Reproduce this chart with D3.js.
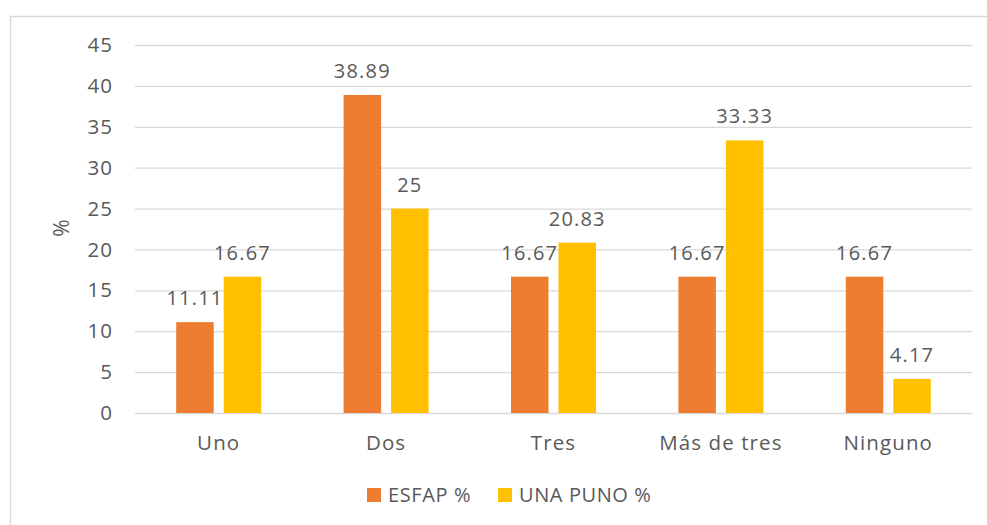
<!DOCTYPE html>
<html>
<head>
<meta charset="utf-8">
<script src="https://cdn.jsdelivr.net/npm/d3@7/dist/d3.min.js"></script>
<style>
  html, body { margin: 0; padding: 0; background: #fff; }
  svg { display: block; }
  text { font-family: "Open Sans", "Noto Sans", sans-serif; fill: #595959; }
</style>
</head>
<body>
<svg id="chart" width="987" height="525"></svg>
<script>
const categories = ["Uno", "Dos", "Tres", "Más de tres", "Ninguno"];
const seriesNames = ["ESFAP %", "UNA PUNO %"];
const esfapValues = [11.11, 38.89, 16.67, 16.67, 16.67];
const unaPunoValues = [16.67, 25, 20.83, 33.33, 4.17];
const yTicks = [0, 5, 10, 15, 20, 25, 30, 35, 40, 45];
const colors = ["#ED7D31", "#FFC000"];
const yTitle = "%";

const svg = d3.select("#chart");
const W = 987, H = 525;

// chart border (cropped: only top and left visible)
svg.append("line").attr("x1", 10).attr("x2", W).attr("y1", 16.5).attr("y2", 16.5)
  .attr("stroke", "#d9d9d9").attr("stroke-width", 1.5);
svg.append("line").attr("x1", 10.5).attr("x2", 10.5).attr("y1", 16).attr("y2", H)
  .attr("stroke", "#d9d9d9").attr("stroke-width", 1.5);

const plot = { left: 135, right: 972, top: 45, bottom: 413 };

const x0 = d3.scaleBand().domain(categories).range([plot.left, plot.right]).paddingInner(0).paddingOuter(0);
const y = d3.scaleLinear().domain([0, 45]).range([plot.bottom, plot.top]);

const band = x0.bandwidth();
const barW = 37.5, barGap = 10;
const x1 = d3.scaleOrdinal().domain([0, 1]).range([-(barW + barGap / 2) , barGap / 2]);

// gridlines
const yAxis = d3.axisLeft(y).tickValues(yTicks).tickSize(-(plot.right - plot.left)).tickPadding(22).tickFormat(d3.format("d"));
const gy = svg.append("g").attr("transform", `translate(${plot.left},0)`).call(yAxis);
gy.select(".domain").remove();
gy.selectAll(".tick line").attr("stroke", "#d9d9d9").attr("stroke-width", 1.3);
gy.selectAll(".tick text").attr("font-size", 20.5).attr("fill", "#595959")
  .attr("letter-spacing", 1).attr("font-family", "Open Sans");

// category axis
const xAxis = d3.axisBottom(x0).tickSize(0).tickPadding(22);
const gx = svg.append("g").attr("transform", `translate(0,${plot.bottom})`).call(xAxis);
gx.select(".domain").remove();
gx.selectAll(".tick text").attr("font-size", 20.5).attr("fill", "#595959")
  .attr("letter-spacing", 1.1).attr("font-family", "Open Sans");

const series = [esfapValues, unaPunoValues];
series.forEach((vals, si) => {
  const g = svg.append("g");
  g.selectAll("rect").data(vals).enter().append("rect")
    .attr("x", (d, i) => x0(categories[i]) + band / 2 + x1(si))
    .attr("y", d => y(d))
    .attr("width", barW)
    .attr("height", d => y(0) - y(d))
    .attr("fill", colors[si]);
  g.selectAll("text").data(vals).enter().append("text")
    .attr("x", (d, i) => x0(categories[i]) + band / 2 + x1(si) + barW / 2)
    .attr("y", d => y(d) - 17)
    .attr("text-anchor", "middle")
    .attr("font-size", 20)
    .attr("letter-spacing", 1.2)
    .text(d => d3.format("")(d));
});

// y title
svg.append("text").attr("transform", `translate(69,228) rotate(-90)`)
  .attr("text-anchor", "middle").attr("font-size", 21).text(yTitle);

// legend
const legendItems = [{ name: seriesNames[0], color: colors[0], x: 367 }, { name: seriesNames[1], color: colors[1], x: 498 }];
const lg = svg.append("g");
legendItems.forEach(it => {
  lg.append("rect").attr("x", it.x).attr("y", 488).attr("width", 14).attr("height", 14).attr("fill", it.color);
  lg.append("text").attr("x", it.x + 21).attr("y", 502).attr("font-size", 20)
    .attr("letter-spacing", 0.6).text(it.name);
});
</script>
</body>
</html>
